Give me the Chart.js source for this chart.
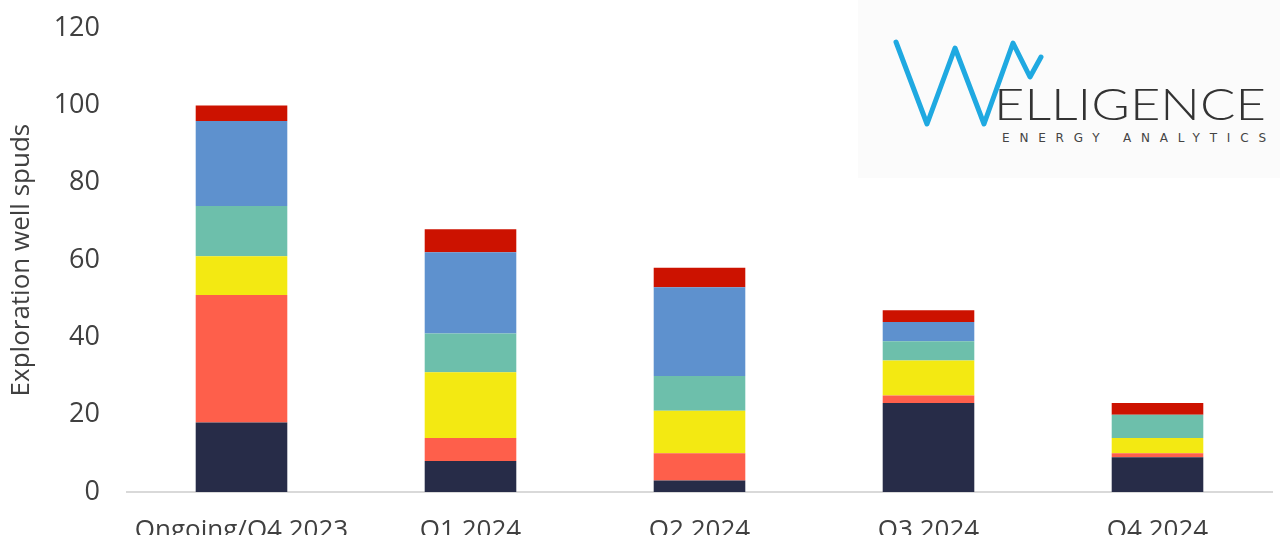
<!DOCTYPE html>
<html>
<head>
<meta charset="utf-8">
<script src="https://cdn.jsdelivr.net/npm/chart.js@4/dist/chart.umd.min.js"></script>
<style>
html,body{margin:0;padding:0;background:#fff;overflow:hidden;width:1280px;height:535px;}
#wrap{position:relative;width:1280px;height:535px;overflow:hidden;}
#logo{position:absolute;left:858px;top:0;width:422px;height:178px;}
canvas{position:absolute;left:0;top:-15px;}
</style>
</head>
<body>
<div id="wrap">
<svg id="logo" width="422" height="178" viewBox="858 0 422 178" xmlns="http://www.w3.org/2000/svg">
  <rect x="858" y="0" width="422" height="178" fill="#fbfbfb"/>
  <polyline points="896,42 927,124 955,48 984,124 1013,43 1030,77 1041,57" fill="none" stroke="#1fa9e1" stroke-width="5" stroke-linejoin="round" stroke-linecap="round"/>
  <text x="994" y="120" font-family="Lato, 'DejaVu Sans'" font-weight="300" font-size="44" fill="#333" textLength="272" lengthAdjust="spacingAndGlyphs">ELLIGENCE</text>
  <text x="1002" y="142" font-family="'DejaVu Sans', Lato" font-size="12" fill="#444" textLength="264" lengthAdjust="spacing">ENERGY ANALYTICS</text>
</svg>
<canvas id="c" width="1280" height="580"></canvas>
</div>
<script>
const categories = ["Ongoing/Q4 2023", "Q1 2024", "Q2 2024", "Q3 2024", "Q4 2024"];
const navySeries   = [18, 8, 3, 23, 9];
const orangeSeries = [33, 6, 7, 2, 1];
const yellowSeries = [10, 17, 11, 9, 4];
const tealSeries   = [13, 10, 9, 5, 6];
const blueSeries   = [22, 21, 23, 5, 0];
const redSeries    = [4, 6, 5, 3, 3];
const yTicks = [0, 20, 40, 60, 80, 100, 120];
const yTitle = "Exploration well spuds";

const mk = (label, data, color) => ({label, data, backgroundColor: color, borderWidth: 0,
  barPercentage: 0.4, categoryPercentage: 1.0});

new Chart(document.getElementById('c'), {
  type: 'bar',
  data: {
    labels: categories,
    datasets: [
      mk('Series A', navySeries, '#272c48'),
      mk('Series B', orangeSeries, '#fe5f4b'),
      mk('Series C', yellowSeries, '#f3e912'),
      mk('Series D', tealSeries, '#6dbfab'),
      mk('Series E', blueSeries, '#5e91ce'),
      mk('Series F', redSeries, '#cc1200')
    ]
  },
  options: {
    responsive: false,
    animation: false,
    layout: {padding: {top: 0, right: 8, left: 0, bottom: 0}},
    plugins: {legend: {display: false}, tooltip: {enabled: false}},
    scales: {
      x: {
        stacked: true,
        grid: {display: false, drawTicks: false},
        border: {display: true, color: '#d9d9d9', width: 2},
        ticks: {color: '#404040', font: {family: '"Open Sans", Lato', size: 26}, padding: 23, maxRotation: 0},
        afterFit: s => { s.height = 73; }
      },
      y: {
        stacked: true,
        min: 0, max: 120,
        afterBuildTicks: s => { s.ticks = yTicks.map(v => ({value: v})); },
        grid: {display: false, drawTicks: false},
        border: {display: false},
        ticks: {color: '#404040', font: {family: '"Open Sans", Lato', size: 27}, padding: 27},
        title: {display: true, text: yTitle, color: '#404040', font: {family: '"Open Sans", Lato', size: 26}, padding: {top: 6, bottom: 0}},
        afterFit: s => { s.width = 127; }
      }
    }
  }
});
</script>
</body>
</html>
